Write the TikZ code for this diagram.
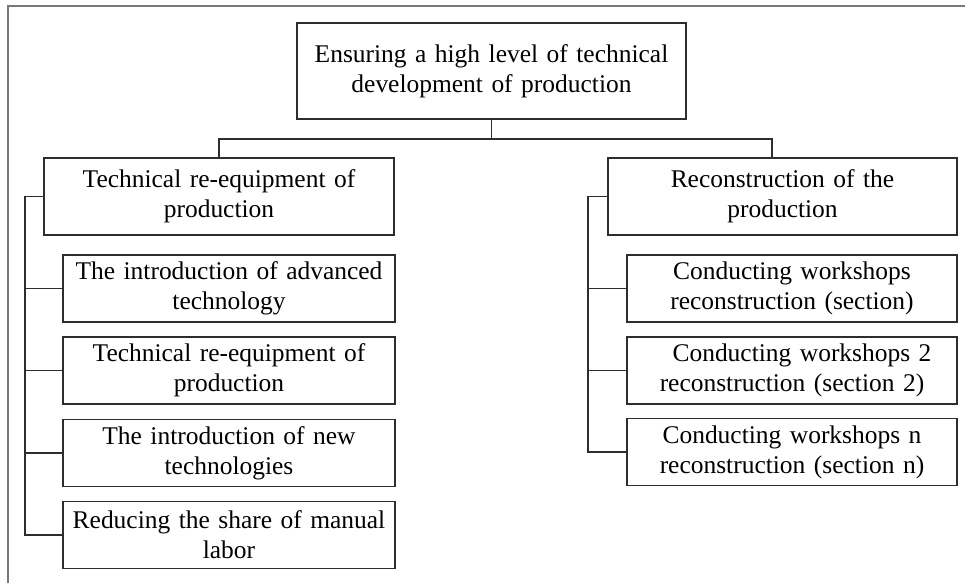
\documentclass[tikz,border=0pt]{standalone}
\usepackage{fontspec}
\setmainfont{Liberation Serif}
\definecolor{boxline}{RGB}{45,45,45}
\definecolor{framegray}{RGB}{120,120,120}
\tikzset{every picture/.style={line width=0.75pt}}
\tikzset{
  box/.style={draw=boxline, line width=1.4pt, align=center, text width=#1,
    inner xsep=1pt, inner ysep=0pt, minimum height=50.25pt,
    font=\fontsize{19.1}{22.5}\selectfont},
  link/.style={draw=boxline, line width=1.3pt}
}

\begin{document}
\begin{tikzpicture}[x=0.75pt,y=0.75pt,yscale=-1,xscale=1]
	%set diagram size
	\useasboundingbox (0,0) rectangle (965,583);
	
	%Shape: Frame
	\draw [color=framegray, line width=1pt]  (8,583) -- (8,6) -- (965,6) ;
	
	%Top
	\node [box=289.75pt, minimum height=72pt] (goal) at (491.5,71) {Ensuring a high level of technical\\development of production};
	
	%Branches
	\node [box=260.5pt, minimum height=57.75pt] (reequip) at (219,196.5) {Technical re-equipment of\\production};
	\node [box=259.75pt, minimum height=57.75pt] (recon) at (782.5,196.5) {Reconstruction of the\\production};
	
	%Left leaves
	\node [box=247pt] (l1) at (229,288.5) {The introduction of advanced\\technology};
	\node [box=247pt] (l2) at (229,370.5) {Technical re-equipment of\\production};
	\node [box=247pt] (l3) at (229,453) {The introduction of new\\technologies};
	\node [box=247pt] (l4) at (229,535) {Reducing the share of manual\\labor};
	
	%Right leaves
	\node [box=245.5pt] (r1) at (792,288.5) {Conducting workshops\\reconstruction (section)};
	\node [box=245.5pt] (r2) at (792,370.5) {\hspace*{15pt}Conducting workshops 2\\reconstruction (section 2)};
	\node [box=245.5pt] (r3) at (792,452) {Conducting workshops n\\reconstruction (section n)};
	
	%Connectors
	\coordinate (bar) at (491.5,139);
	\coordinate (lbus) at (25,196.5);
	\coordinate (rbus) at (588,196.5);
	\draw [link]  (goal.south) -- (bar) ;
	\draw [link]  (reequip.north) |- (bar) -| ([xshift=-7.9pt]recon.north) ;
	
	\draw [link]  (reequip.west) -- (lbus) |- (l4.west) ;
	\foreach \i in {1,2,3} \draw [link]  (l\i.west) -- (l\i.west -| lbus) ;
	
	\draw [link]  (recon.west) -- (rbus) |- (r3.west) ;
	\foreach \i in {1,2} \draw [link]  (r\i.west) -- (r\i.west -| rbus) ;
	
\end{tikzpicture}
\end{document}
